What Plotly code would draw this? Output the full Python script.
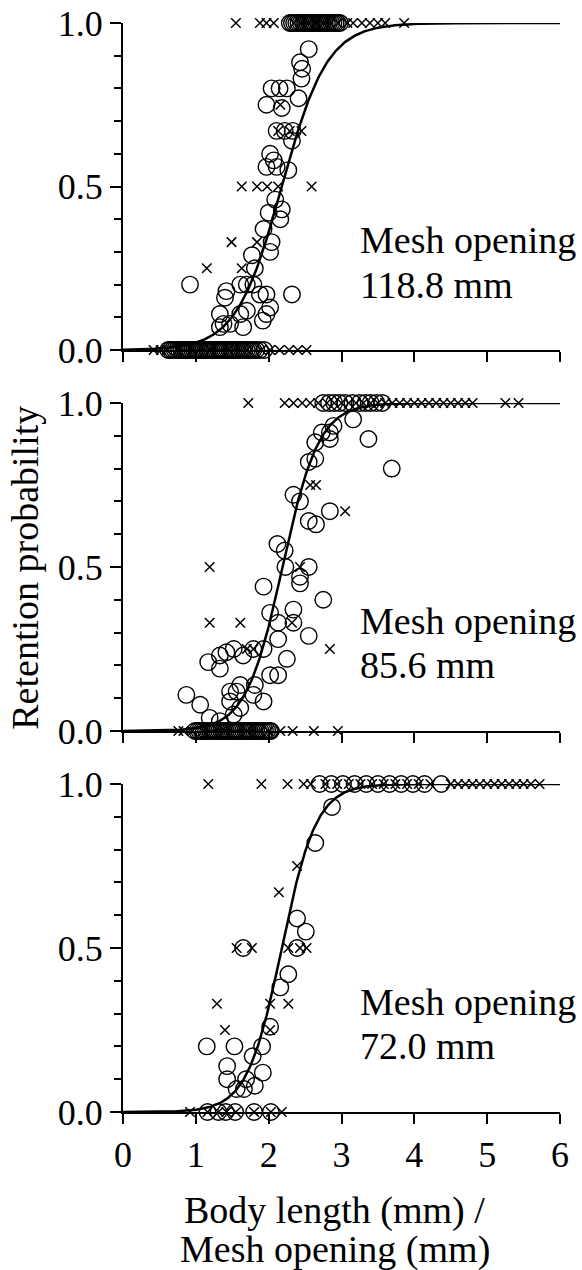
import numpy as np
import plotly.graph_objects as go

FONT = "Liberation Serif"

mesh_labels = ["118.8 mm", "85.6 mm", "72.0 mm"]

# ---------------- Panel 1 (118.8 mm) ----------------
p1_circ_x = [2.29, 2.32, 2.35, 2.38, 2.41, 2.44, 2.47, 2.50, 2.53, 2.56, 2.59, 2.62, 2.65, 2.68, 2.71, 2.74, 2.77,
             2.80, 2.83, 2.86, 2.89, 2.92, 2.95, 2.98,
             2.55, 2.43, 2.46, 2.45, 2.04, 2.15, 2.25, 2.41, 1.97, 2.18, 2.11, 2.22, 2.33, 2.32, 2.02, 2.07, 1.97, 2.11, 2.27,
             2.09, 2.18, 2.16, 2.00, 1.93, 2.04, 2.02, 1.77, 1.81, 1.61, 1.70, 1.79, 0.92, 2.32, 1.42, 1.97, 1.88, 1.40,
             2.02, 1.70, 1.33, 1.97, 1.61, 1.92, 1.38, 1.47, 1.65, 1.33,
             0.62, 0.65, 0.68, 0.71, 0.74, 0.77, 0.80, 0.83, 0.86, 0.89, 0.92, 0.95, 0.98, 1.01, 1.04, 1.07, 1.10,
             1.13, 1.16, 1.19, 1.22, 1.25, 1.28, 1.31, 1.34, 1.37, 1.40, 1.43, 1.46, 1.49, 1.52, 1.55, 1.58, 1.61,
             1.64, 1.67, 1.70, 1.73, 1.76, 1.79, 1.83, 1.88, 1.94]
p1_circ_y = [1, 1, 1, 1, 1, 1, 1, 1, 1, 1, 1, 1, 1, 1, 1, 1, 1,
             1, 1, 1, 1, 1, 1, 1,
             0.92, 0.88, 0.86, 0.83, 0.80, 0.80, 0.80, 0.77, 0.75, 0.74, 0.67, 0.67, 0.67, 0.64, 0.60, 0.58, 0.56, 0.56, 0.55,
             0.46, 0.43, 0.40, 0.42, 0.37, 0.33, 0.30, 0.29, 0.25, 0.20, 0.20, 0.20, 0.20, 0.17, 0.18, 0.17, 0.17, 0.16,
             0.13, 0.12, 0.11, 0.11, 0.11, 0.09, 0.08, 0.08, 0.07, 0.07,
             0, 0, 0, 0, 0, 0, 0, 0, 0, 0, 0, 0, 0, 0, 0, 0, 0,
             0, 0, 0, 0, 0, 0, 0, 0, 0, 0, 0, 0, 0, 0, 0, 0, 0,
             0, 0, 0, 0, 0, 0, 0, 0, 0]
p1_x_x = [1.55, 1.88, 1.97, 2.07, 2.35, 2.45, 2.55, 2.65, 2.75, 2.85, 2.95, 3.08, 3.16, 3.28, 3.39, 3.50, 3.60, 3.86,
          1.63, 1.84, 1.98, 2.13, 2.59, 1.49, 1.84, 1.15, 1.63, 2.16, 2.13, 2.29, 2.45,
          0.42, 0.52, 0.60, 0.75, 0.95, 1.20, 1.45, 1.70, 1.90, 2.02, 2.15, 2.28, 2.40, 2.52]
p1_x_y = [1, 1, 1, 1, 1, 1, 1, 1, 1, 1, 1, 1, 1, 1, 1, 1, 1, 1,
          0.5, 0.5, 0.5, 0.5, 0.5, 0.33, 0.33, 0.25, 0.25, 0.75, 0.67, 0.67, 0.67,
          0, 0, 0, 0, 0, 0, 0, 0, 0, 0, 0, 0, 0, 0]

# ---------------- Panel 2 (85.6 mm) ----------------
p2_circ_x = [2.75, 2.83, 2.90, 2.97, 3.05, 3.15, 3.25, 3.33, 3.40, 3.48, 3.56,
             3.16, 2.89, 2.84, 2.73, 2.84, 2.64, 3.37, 2.64, 2.55, 3.69, 2.34, 2.43, 2.84, 2.55, 2.65, 2.12, 2.22,
             2.23, 2.55, 2.43, 2.43, 1.93, 2.75, 2.02, 2.34, 2.13, 2.34, 2.55, 2.13, 1.93, 1.79, 1.52, 1.42, 1.65,
             1.33, 1.17, 1.33, 2.25, 2.02, 2.13, 1.61, 1.81, 1.47, 1.56, 1.79, 1.93, 0.87, 1.06, 1.61, 1.47, 1.19,
             1.52, 1.33,
             0.99, 1.02, 1.05, 1.08, 1.11, 1.14, 1.17, 1.20, 1.23, 1.26, 1.29, 1.32, 1.35, 1.38, 1.41, 1.44, 1.47,
             1.50, 1.53, 1.56, 1.59, 1.62, 1.65, 1.68, 1.71, 1.74, 1.77, 1.80, 1.83, 1.86, 1.89, 1.92, 1.95, 1.98,
             2.01, 2.03]
p2_circ_y = [1, 1, 1, 1, 1, 1, 1, 1, 1, 1, 1,
             0.95, 0.93, 0.91, 0.91, 0.89, 0.88, 0.89, 0.83, 0.82, 0.80, 0.72, 0.70, 0.67, 0.64, 0.63, 0.57, 0.55,
             0.50, 0.50, 0.47, 0.45, 0.44, 0.40, 0.36, 0.37, 0.33, 0.33, 0.29, 0.28, 0.25, 0.25, 0.25, 0.24, 0.23,
             0.23, 0.21, 0.19, 0.22, 0.17, 0.17, 0.14, 0.14, 0.12, 0.12, 0.11, 0.09, 0.11, 0.08, 0.07, 0.09, 0.04,
             0.05, 0.03,
             0, 0, 0, 0, 0, 0, 0, 0, 0, 0, 0, 0, 0, 0, 0, 0, 0,
             0, 0, 0, 0, 0, 0, 0, 0, 0, 0, 0, 0, 0, 0, 0, 0, 0,
             0, 0]
p2_x_x = [1.72, 2.22, 2.34, 2.46, 2.57, 2.68, 2.80, 2.90, 3.00, 3.10, 3.20, 3.30, 3.40, 3.50, 3.60, 3.70, 3.80,
          3.90, 4.00, 4.10, 4.20, 4.30, 4.40, 4.50, 4.60, 4.70, 4.80, 5.25, 5.43,
          2.57, 2.65, 3.05, 1.19, 2.43, 1.19, 1.61, 2.32, 1.70, 1.79, 2.84,
          0.76, 0.83, 0.95, 1.10, 1.40, 1.70, 2.00, 2.16, 2.33, 2.62, 2.95]
p2_x_y = [1, 1, 1, 1, 1, 1, 1, 1, 1, 1, 1, 1, 1, 1, 1, 1, 1,
          1, 1, 1, 1, 1, 1, 1, 1, 1, 1, 1, 1,
          0.75, 0.75, 0.67, 0.5, 0.5, 0.33, 0.33, 0.33, 0.25, 0.25, 0.25,
          0, 0, 0, 0, 0, 0, 0, 0, 0, 0, 0]

# ---------------- Panel 3 (72.0 mm) ----------------
p3_circ_x = [2.70, 2.86, 3.02, 3.18, 3.34, 3.50, 3.66, 3.82, 3.98, 4.14, 4.37,
             2.87, 2.64, 2.39, 2.51, 1.65, 2.39, 2.27, 2.16, 2.02, 1.15, 1.53, 1.91, 1.78, 1.43, 1.43, 1.92,
             1.69, 1.81, 1.56, 1.66,
             1.16, 1.31, 1.41, 1.54, 1.80, 2.03]
p3_circ_y = [1, 1, 1, 1, 1, 1, 1, 1, 1, 1, 1,
             0.93, 0.82, 0.59, 0.55, 0.50, 0.50, 0.42, 0.38, 0.26, 0.20, 0.20, 0.20, 0.17, 0.14, 0.10, 0.12,
             0.10, 0.08, 0.07, 0.07,
             0, 0, 0, 0, 0, 0]
p3_x_x = [1.17, 1.90, 2.26, 2.48, 2.58, 2.78, 2.94, 3.10, 3.26, 3.42, 3.58, 3.74, 3.90, 4.06, 4.22,
          4.50, 4.60, 4.70, 4.80, 4.90, 5.00, 5.10, 5.20, 5.30, 5.40, 5.50, 5.60, 5.72,
          2.39, 2.14, 1.56, 1.77, 2.27, 2.43, 2.52, 1.29, 2.02, 2.27, 1.40, 2.02,
          0.92, 1.16, 1.31, 1.42, 1.55, 1.80, 2.03, 2.18]
p3_x_y = [1, 1, 1, 1, 1, 1, 1, 1, 1, 1, 1, 1, 1, 1, 1,
          1, 1, 1, 1, 1, 1, 1, 1, 1, 1, 1, 1, 1,
          0.75, 0.67, 0.5, 0.5, 0.5, 0.5, 0.5, 0.33, 0.33, 0.33, 0.25, 0.25,
          0, 0, 0, 0, 0, 0, 0, 0]

# fitted logistic selection curves: 50% retention length and slope
l50 = [2.18, 2.19, 2.18]
slope = [3.2, 4.0, 4.2]

circ_x = [p1_circ_x, p2_circ_x, p3_circ_x]
circ_y = [p1_circ_y, p2_circ_y, p3_circ_y]
cross_x = [p1_x_x, p2_x_x, p3_x_x]
cross_y = [p1_x_y, p2_x_y, p3_x_y]

domains = [[0.6997, 1.0], [0.3499, 0.6511], [0.0, 0.3012]]

fig = go.Figure()
xs = np.linspace(0, 6, 400)
for i in range(3):
    ax = "" if i == 0 else str(i + 1)
    fig.add_trace(go.Scatter(
        x=circ_x[i], y=circ_y[i], mode="markers", xaxis="x" + ax, yaxis="y" + ax,
        marker=dict(symbol="circle-open", size=16.5, color="black", line=dict(width=1.4, color="black")),
        cliponaxis=False, showlegend=False))
    fig.add_trace(go.Scatter(
        x=cross_x[i], y=cross_y[i], mode="markers", xaxis="x" + ax, yaxis="y" + ax,
        marker=dict(symbol="x-thin", size=9.5, color="black", line=dict(width=1.5, color="black")),
        cliponaxis=False, showlegend=False))
    curve = 1.0 / (1.0 + np.exp(-slope[i] * (xs - l50[i])))
    fig.add_trace(go.Scatter(
        x=xs, y=curve, mode="lines", xaxis="x" + ax, yaxis="y" + ax,
        line=dict(color="black", width=2.5), cliponaxis=False, showlegend=False))

layout = dict(
    width=582, height=1270,
    margin=dict(l=123, r=22, t=23, b=158, autoexpand=False),
    paper_bgcolor="white", plot_bgcolor="white",
    font=dict(family=FONT, size=36, color="black"),
)
for i in range(3):
    ax = "" if i == 0 else str(i + 1)
    layout["xaxis" + ax] = dict(
        range=[0, 6], domain=[0, 1], anchor="y" + ax, automargin=False,
        tickmode="linear", tick0=0, dtick=1,
        ticks="outside", ticklen=10, tickwidth=2, tickcolor="black",
        showline=True, linewidth=2, linecolor="black",
        showgrid=False, zeroline=False,
        showticklabels=(i == 2),
        tickfont=dict(family=FONT, size=36, color="black"),
    )
    layout["yaxis" + ax] = dict(
        range=[0, 1], domain=domains[i], anchor="x" + ax, automargin=False,
        tickmode="linear", tick0=0, dtick=0.5, tickformat=".1f",
        ticks="outside", ticklen=11, tickwidth=2, tickcolor="black",
        minor=dict(ticks="outside", dtick=0.1, tick0=0, ticklen=7, tickwidth=2, tickcolor="black", showgrid=False),
        showline=True, linewidth=2, linecolor="black",
        showgrid=False, zeroline=False,
        tickfont=dict(family=FONT, size=36, color="black"),
    )
fig.update_layout(**layout)

annotations = []
for i in range(3):
    ax = "" if i == 0 else str(i + 1)
    annotations.append(dict(text="Mesh opening", x=3.23, y=0.335, xref="x" + ax, yref="y" + ax,
                            xanchor="left", yanchor="middle", showarrow=False,
                            font=dict(family=FONT, size=38, color="black")))
    annotations.append(dict(text=mesh_labels[i], x=3.23, y=0.20, xref="x" + ax, yref="y" + ax,
                            xanchor="left", yanchor="middle", showarrow=False,
                            font=dict(family=FONT, size=38, color="black")))
annotations.append(dict(text="Retention probability", x=-0.226, y=0.5, xref="paper", yref="paper",
                        textangle=-90, xanchor="center", yanchor="middle", showarrow=False,
                        font=dict(family=FONT, size=38, color="black")))
annotations.append(dict(text="Body length (mm) /", x=0.485, y=-0.090, xref="paper", yref="paper",
                        xanchor="center", yanchor="middle", showarrow=False,
                        font=dict(family=FONT, size=38, color="black")))
annotations.append(dict(text="Mesh opening (mm)", x=0.485, y=-0.1267, xref="paper", yref="paper",
                        xanchor="center", yanchor="middle", showarrow=False,
                        font=dict(family=FONT, size=38, color="black")))
fig.update_layout(annotations=annotations)

fig.write_html("out.html")
